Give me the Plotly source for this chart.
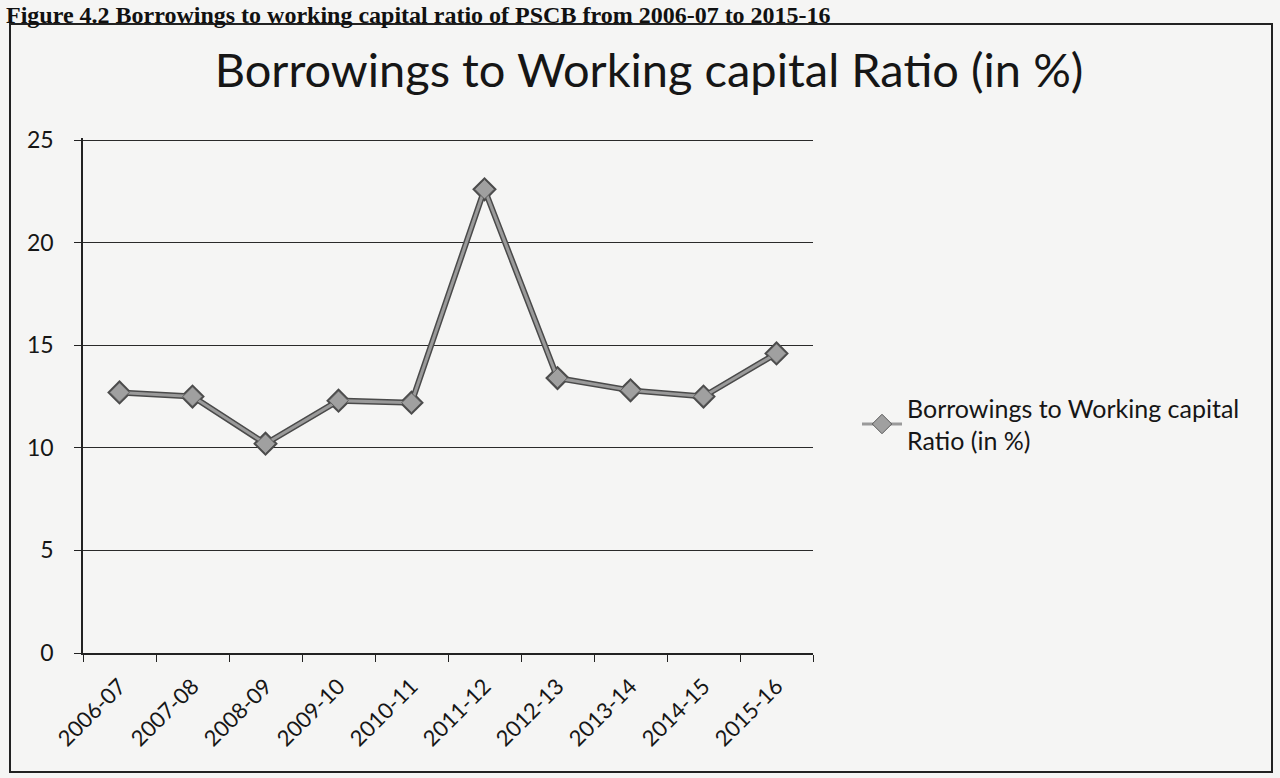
import plotly.graph_objects as go

# Financial years and the borrowings-to-working-capital ratio (%)
years = ["2006-07", "2007-08", "2008-09", "2009-10", "2010-11",
         "2011-12", "2012-13", "2013-14", "2014-15", "2015-16"]
ratio = [12.7, 12.5, 10.2, 12.3, 12.2, 22.6, 13.4, 12.8, 12.5, 14.6]
y_ticks = [0, 5, 10, 15, 20, 25]
y_top = 25.1

W, H = 1280, 778
L, R, T, B = 83, 813, 138, 653  # plot area in pixels


def px_x(px):
    return (px - L) / (R - L)


def px_y(py):
    return 1 - (py - T) / (B - T)


FONT = "Lato, 'Open Sans', sans-serif"
PAPER = "#f5f5f4"
INK = "#161616"

fig = go.Figure()

# dark casing under the series line
fig.add_trace(go.Scatter(
    x=years, y=ratio, mode="lines+markers",
    line=dict(color="#4a4a4a", width=6),
    marker=dict(symbol="diamond", size=19, color="#4a4a4a"),
    showlegend=False, hoverinfo="skip",
))
# grey series line with diamond markers
fig.add_trace(go.Scatter(
    x=years, y=ratio, mode="lines+markers",
    name="Borrowings to Working capital<br>Ratio (in %)",
    line=dict(color="#9a9a9a", width=3),
    marker=dict(symbol="diamond", size=15, color="#a0a0a0",
                line=dict(color="#5a5a5a", width=1)),
))

shapes = [
    # chart frame
    dict(type="rect", xref="paper", yref="paper",
         x0=px_x(10), x1=px_x(1272), y0=px_y(772), y1=px_y(24),
         line=dict(color="#222", width=2), layer="below"),
]

annotations = [
    dict(text="<b>Figure 4.2 Borrowings to working capital ratio of PSCB from 2006-07 to 2015-16</b>",
         xref="paper", yref="paper", x=px_x(4), y=px_y(0),
         xanchor="left", yanchor="top", showarrow=False,
         font=dict(family="'Liberation Serif', serif", size=24, color="#111")),
]

fig.update_layout(
    width=W, height=H,
    margin=dict(l=L, r=W - R, t=T, b=H - B),
    paper_bgcolor=PAPER, plot_bgcolor=PAPER,
    title=dict(text="Borrowings to Working capital Ratio (in %)",
               x=px_x(649), xref="paper",
               y=1 - 71 / H, yanchor="middle", xanchor="center",
               font=dict(family=FONT, size=47, color=INK)),
    font=dict(family=FONT, color=INK),
    shapes=shapes, annotations=annotations,
    legend=dict(x=px_x(857), y=px_y(424), xanchor="left", yanchor="middle",
                font=dict(family=FONT, size=25, color=INK),
                bgcolor="rgba(0,0,0,0)", itemwidth=40),
    xaxis=dict(type="category", range=[-0.5, 9.5], tickson="boundaries",
               ticks="outside", ticklen=7, tickcolor="#222",
               showline=True, linecolor="#222", linewidth=1.5,
               showgrid=False, tickangle=-45, ticklabelstandoff=10,
               tickfont=dict(family=FONT, size=22, color=INK)),
    yaxis=dict(range=[0, y_top], tickvals=y_ticks, ticks="outside", ticklen=7,
               tickcolor="#222", showline=True, linecolor="#222", linewidth=1.5,
               showgrid=True, gridcolor="#2a2a2a", gridwidth=1,
               zeroline=False, ticklabelstandoff=16,
               tickfont=dict(family=FONT, size=23, color=INK)),
)

fig.write_html("out.html")
